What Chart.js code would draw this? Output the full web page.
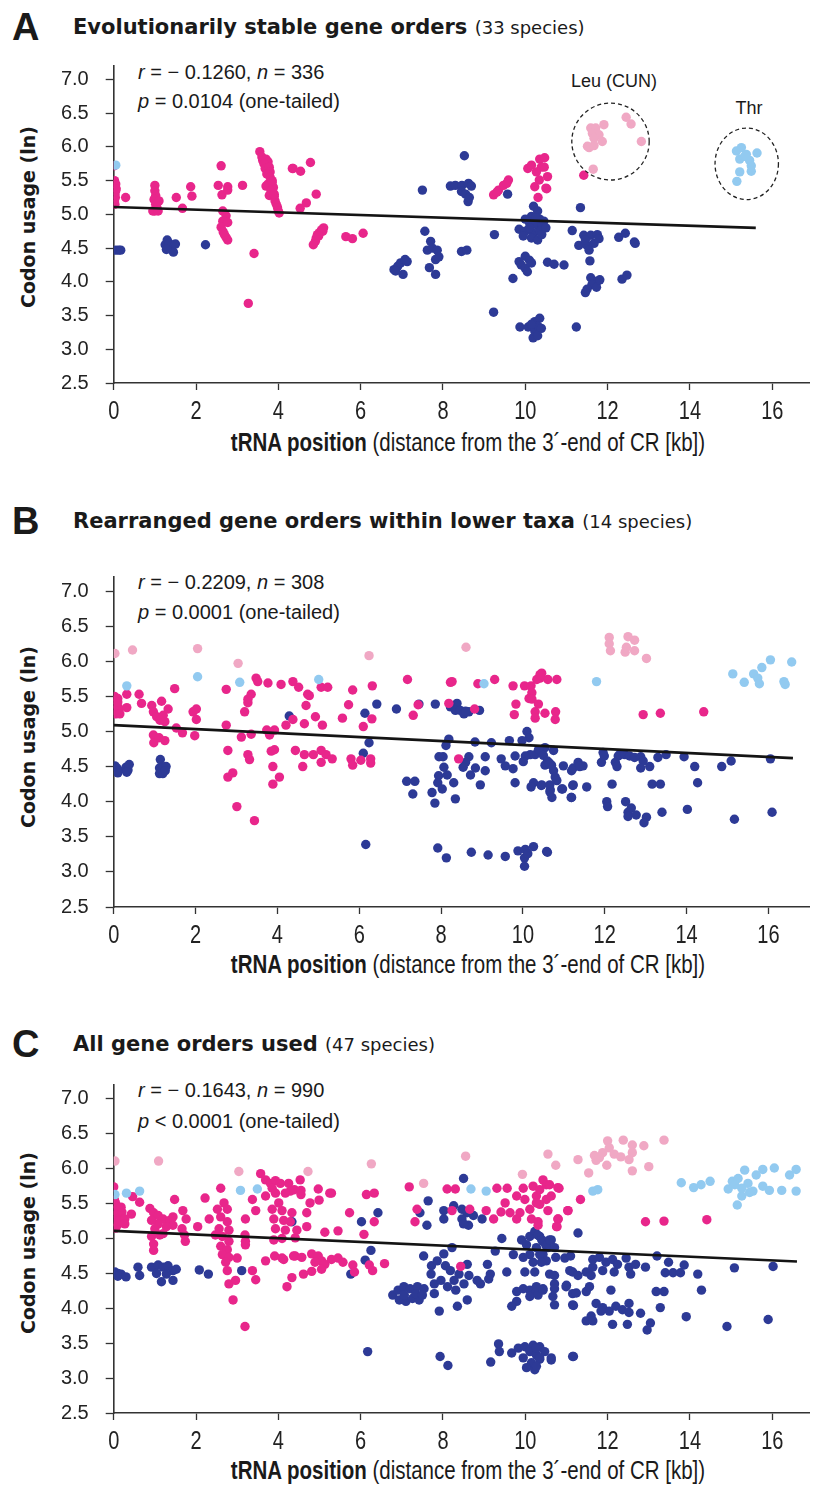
<!DOCTYPE html>
<html>
<head>
<meta charset="utf-8">
<script src="https://cdn.jsdelivr.net/npm/chart.js@4.4.1/dist/chart.umd.min.js"></script>
<style>
html, body { margin: 0; padding: 0; background: #fff; }
#fig { position: relative; width: 814px; height: 1486px; overflow: hidden; }
#fig canvas { position: absolute; left: 0; }
.t { position: absolute; white-space: nowrap; transform: translateY(-50%); color: #1a1a1a; }
.letter { font: bold 38px "Liberation Sans", Arial, sans-serif; left: 12px; }
.title { font: bold 21px "DejaVu Sans", Verdana, sans-serif; left: 73px; }
.title span { font-weight: normal; font-size: 18px; }
.stat { font: 20px "Liberation Sans", Arial, sans-serif; left: 138px; }
.ytitle { font: bold 19px "DejaVu Sans", Verdana, sans-serif; transform: translate(-50%, -50%) rotate(-90deg); }
/* the original axis title is set in a narrow face; squeeze Arial to match */
.xtitle { font: 25px "Liberation Sans", Arial, sans-serif; transform: translate(-50%, -50%) scaleX(0.82); }
.note { font: 18px "Liberation Sans", Arial, sans-serif; transform: translate(-50%, -50%); }
</style>
</head>
<body>
<div id="fig">
  <div class="t letter" style="top:27px">A</div>
  <div class="t title" style="top:27px">Evolutionarily stable gene orders <span>(33 species)</span></div>
  <div class="t stat" style="top:72px"><i>r</i> = − 0.1260, <i>n</i> = 336</div>
  <div class="t stat" style="top:101px"><i>p</i> = 0.0104 (one-tailed)</div>
  <div class="t ytitle" style="left:28px;top:217px">Codon usage (ln)</div>
  <div class="t xtitle" style="left:468px;top:442px"><b>tRNA position</b> (distance from the 3´-end of CR [kb])</div>
  <div class="t note" style="left:614px;top:81px">Leu (CUN)</div>
  <div class="t note" style="left:749px;top:108px">Thr</div>

  <div class="t letter" style="top:521px">B</div>
  <div class="t title" style="top:521px">Rearranged gene orders within lower taxa <span>(14 species)</span></div>
  <div class="t stat" style="top:582px"><i>r</i> = − 0.2209, <i>n</i> = 308</div>
  <div class="t stat" style="top:612px"><i>p</i> = 0.0001 (one-tailed)</div>
  <div class="t ytitle" style="left:28px;top:737px">Codon usage (ln)</div>
  <div class="t xtitle" style="left:468px;top:964px"><b>tRNA position</b> (distance from the 3´-end of CR [kb])</div>

  <div class="t letter" style="top:1044px">C</div>
  <div class="t title" style="top:1044px">All gene orders used <span>(47 species)</span></div>
  <div class="t stat" style="top:1090px"><i>r</i> = − 0.1643, <i>n</i> = 990</div>
  <div class="t stat" style="top:1121px"><i>p</i> &lt; 0.0001 (one-tailed)</div>
  <div class="t ytitle" style="left:28px;top:1243px">Codon usage (ln)</div>
  <div class="t xtitle" style="left:468px;top:1470px"><b>tRNA position</b> (distance from the 3´-end of CR [kb])</div>
</div>
<script>
// tick labels
const xTicks = [0, 2, 4, 6, 8, 10, 12, 14, 16];
const yTicks = [2.5, 3.0, 3.5, 4.0, 4.5, 5.0, 5.5, 6.0, 6.5, 7.0];

// A: evolutionarily stable gene orders, [kb, codon usage]
const aMagenta = [
  [0, 5.72], [0.02, 5.5], [0.03, 5.45], [0.02, 5.4], [0.05, 5.35], [0.03, 5.3], [0.04, 5.25], [0.02, 5.2], [0.03, 5.15], [0.05, 5.45], [0.06, 5.38], [0.29, 5.25],
  [1.0, 5.43], [1.0, 5.35], [1.02, 5.28], [0.98, 5.22], [1.02, 5.15], [1.05, 5.1], [1.0, 5.05], [0.95, 5.05], [1.08, 5.05], [1.1, 5.2],
  [1.52, 5.25], [1.87, 5.41], [1.9, 5.27], [1.67, 5.09],
  [2.61, 5.72], [2.54, 5.43], [2.77, 5.41], [2.63, 5.29], [2.77, 5.36], [2.65, 5.05], [2.73, 4.98], [2.65, 4.9], [2.61, 4.81], [2.66, 4.74], [2.73, 4.66], [2.77, 4.62], [2.69, 4.7], [2.77, 4.88],
  [3.13, 5.43], [3.41, 4.42], [3.27, 3.68],
  [3.55, 5.93], [3.6, 5.85], [3.62, 5.8], [3.7, 5.82], [3.75, 5.78], [3.65, 5.75], [3.68, 5.68], [3.78, 5.7], [3.8, 5.63], [3.72, 5.6], [3.8, 5.55], [3.85, 5.47], [3.75, 5.45], [3.7, 5.42], [3.88, 5.4], [3.82, 5.35], [3.78, 5.28], [3.9, 5.27], [3.92, 5.2], [3.95, 5.15], [3.98, 5.1], [4.0, 5.05], [4.02, 5.02], [3.85, 5.5], [3.9, 5.3],
  [4.34, 5.68], [4.36, 5.68], [4.54, 5.64], [4.78, 5.77], [4.92, 5.3], [4.68, 5.17], [4.53, 5.09],
  [5.1, 4.8], [5.05, 4.77], [5.0, 4.73], [4.95, 4.7], [4.92, 4.65], [4.9, 4.6], [4.85, 4.55], [5.08, 4.75], [4.98, 4.68],
  [5.64, 4.67], [5.8, 4.64], [6.06, 4.72],
  [9.23, 5.29], [9.35, 5.36], [9.47, 5.43], [9.59, 5.51], [9.55, 5.46], [9.31, 5.33],
  [10.06, 5.68], [10.15, 5.73], [10.35, 5.82], [10.47, 5.84], [10.39, 5.7], [10.54, 5.56], [10.27, 5.63], [10.23, 5.41], [10.52, 5.38], [10.31, 5.25], [10.46, 5.7], [10.5, 5.39], [10.34, 5.51],
  [11.42, 5.58]
];
const aNavy = [
  [0.05, 4.47], [0.12, 4.47], [0.17, 4.47],
  [1.3, 4.62], [1.25, 4.55], [1.32, 4.5], [1.4, 4.48], [1.45, 4.44], [1.35, 4.57], [1.28, 4.48], [1.5, 4.56],
  [2.23, 4.55],
  [6.81, 4.18], [6.9, 4.23], [6.97, 4.28], [7.08, 4.33], [7.13, 4.3], [7.03, 4.11], [6.85, 4.16],
  [7.5, 5.36],
  [7.56, 4.75], [7.7, 4.6], [7.62, 4.47], [7.74, 4.5], [7.86, 4.47], [7.82, 4.33], [7.9, 4.37], [7.67, 4.21], [7.82, 4.11],
  [8.45, 4.45], [8.58, 4.47],
  [8.52, 5.87], [8.18, 5.42], [8.3, 5.43], [8.46, 5.43], [8.62, 5.46], [8.69, 5.42], [8.45, 5.34], [8.55, 5.3], [8.61, 5.19], [8.64, 5.25],
  [9.57, 5.3], [9.25, 4.7],
  [10.2, 5.12], [10.3, 5.05], [10.15, 4.97], [10.0, 4.93], [10.35, 4.93], [10.45, 4.9], [10.1, 4.88], [10.25, 4.85], [10.4, 4.83], [9.85, 4.78], [10.0, 4.75], [10.2, 4.72], [10.35, 4.75], [10.5, 4.8], [10.15, 4.65], [9.95, 4.68], [10.3, 4.62], [10.1, 4.8], [10.25, 4.95], [10.4, 4.7],
  [10.0, 4.38], [9.85, 4.3], [9.9, 4.25], [10.0, 4.2], [10.05, 4.15], [9.7, 4.05], [10.1, 4.32], [10.15, 4.28],
  [10.54, 4.29], [10.7, 4.26], [10.94, 4.25],
  [9.23, 3.55],
  [9.87, 3.33], [10.07, 3.33], [10.23, 3.41], [10.35, 3.46], [10.23, 3.27], [10.19, 3.17], [10.31, 3.34], [10.15, 3.37], [10.39, 3.31], [10.3, 3.2],
  [11.24, 3.33],
  [11.34, 5.1], [11.14, 4.76], [11.42, 4.69], [11.59, 4.69], [11.75, 4.7], [11.3, 4.54], [11.5, 4.54], [11.67, 4.57], [11.55, 4.47], [11.79, 4.64], [11.46, 4.62],
  [12.27, 4.66], [12.43, 4.72], [12.65, 4.59], [12.67, 4.57],
  [11.57, 4.31],
  [11.59, 4.06], [11.75, 4.01], [11.62, 3.96], [11.5, 3.89], [11.46, 3.84], [11.73, 3.92], [11.81, 4.03],
  [12.35, 4.04], [12.47, 4.1]
];
const aLightPink = [
  [11.59, 6.28], [11.71, 6.28], [11.91, 6.33], [11.63, 6.2], [11.79, 6.18], [11.67, 6.13], [11.87, 6.08], [11.55, 5.99], [11.51, 6.01], [11.67, 6.02], [12.45, 6.44], [12.57, 6.34], [12.82, 6.08], [11.65, 5.67]
];
const aLightBlue = [
  [0.05, 5.73], [15.13, 5.94], [15.25, 5.99], [15.37, 5.89], [15.63, 5.91], [15.21, 5.82], [15.45, 5.8], [15.49, 5.72], [15.21, 5.63], [15.49, 5.64], [15.14, 5.49], [15.33, 5.86]
];
const aFit = [[0, 5.11], [15.6, 4.8]];

// B: rearranged gene orders within lower taxa
const bMagenta = [
  [0.02, 5.5], [0.05, 5.45], [0.1, 5.47], [0.03, 5.4], [0.08, 5.36], [0.13, 5.33], [0.02, 5.3], [0.06, 5.25], [0.15, 5.25], [0.1, 5.42],
  [0.32, 5.53], [0.32, 5.34], [0.62, 5.53], [0.68, 5.4],
  [0.93, 5.37], [1.17, 5.43], [0.97, 5.28], [1.05, 5.21], [1.21, 5.23], [1.33, 5.32], [1.13, 5.16], [1.25, 5.14], [1.49, 5.61], [1.53, 5.05], [1.68, 4.98],
  [0.97, 4.95], [0.98, 4.84], [1.11, 4.91], [1.25, 4.87],
  [1.94, 5.28], [2.02, 5.32], [2.02, 5.17], [1.98, 4.94],
  [2.75, 5.6], [2.75, 5.09], [2.79, 4.73], [2.79, 4.35], [2.91, 4.41], [3.01, 3.93], [3.12, 4.92], [3.2, 5.28], [3.28, 5.41], [3.36, 5.53], [3.28, 5.46], [3.28, 4.67], [3.32, 4.6], [3.36, 4.96], [3.44, 3.73],
  [3.48, 5.76], [3.52, 5.71], [3.77, 5.69],
  [3.74, 5.02], [3.81, 4.95], [3.93, 5.02], [3.81, 4.99], [3.93, 4.74], [3.85, 4.72], [3.89, 4.5], [4.05, 4.35], [3.89, 4.25],
  [4.09, 5.67], [4.38, 5.71], [4.52, 5.63], [4.74, 5.53], [4.78, 5.51], [4.7, 5.37], [4.93, 5.21], [4.38, 5.17], [4.21, 5.09], [4.66, 5.11], [5.1, 5.09], [5.07, 5.63], [5.23, 5.63], [5.84, 5.59], [5.74, 5.38], [5.59, 5.19], [6.1, 5.07], [6.31, 5.18], [6.32, 5.65],
  [7.18, 5.74], [7.44, 5.38], [7.32, 5.23], [8.23, 5.7], [8.27, 5.71], [8.19, 5.4], [8.9, 5.68], [9.31, 5.74], [9.76, 5.65], [10.04, 5.65], [10.2, 5.65],
  [10.46, 5.83], [10.42, 5.76], [10.61, 5.74], [10.83, 5.74], [10.34, 5.74], [10.22, 5.55], [10.15, 5.47], [10.22, 5.46], [9.83, 5.39], [9.79, 5.24], [10.38, 5.39], [10.3, 5.28], [10.54, 5.26], [10.8, 5.28], [10.3, 5.19], [10.79, 5.17], [8.82, 5.32], [10.42, 5.81],
  [4.44, 4.73], [4.66, 4.67], [4.88, 4.67], [5.07, 4.73], [5.19, 4.67], [5.34, 4.61], [4.62, 4.5], [5.07, 4.56], [5.8, 4.61], [5.84, 4.52], [6.04, 4.59], [6.28, 4.61], [6.28, 4.55], [8.43, 4.61],
  [12.94, 5.24], [13.36, 5.26], [14.42, 5.28]
];
const bNavy = [
  [0.03, 4.51], [0.08, 4.48], [0.12, 4.44], [0.1, 4.41], [0.3, 4.49], [0.35, 4.45], [0.38, 4.53], [0.32, 4.42],
  [1.14, 4.6], [1.12, 4.48], [1.2, 4.49], [1.28, 4.5], [1.12, 4.4], [1.2, 4.4], [1.26, 4.44],
  [4.29, 5.22], [6.14, 5.26], [6.43, 5.39], [6.91, 5.32], [7.46, 5.39], [7.86, 5.39], [8.39, 5.4], [8.23, 5.35], [8.35, 5.3], [8.47, 5.3], [8.56, 5.25], [8.68, 5.28], [8.94, 5.3], [8.6, 5.29],
  [6.24, 4.84], [6.1, 4.69], [6.16, 3.39],
  [8.19, 4.89], [8.12, 4.8], [7.95, 4.64], [8.05, 4.64], [8.07, 4.49], [7.94, 4.37], [8.15, 4.38], [7.92, 4.27], [8.03, 4.18], [8.31, 4.27], [8.35, 4.04], [7.16, 4.29], [7.36, 4.29], [7.31, 4.11], [7.78, 4.13], [7.85, 3.98],
  [8.83, 4.85], [9.23, 4.84], [9.67, 4.87], [10.1, 5.0], [10.15, 4.91], [9.98, 4.87], [10.18, 4.67], [10.06, 4.65], [10.3, 4.67], [10.38, 4.74], [10.54, 4.77], [10.75, 4.73],
  [8.68, 4.64], [8.6, 4.56], [8.54, 4.49], [8.84, 4.48], [8.72, 4.38], [9.08, 4.64], [9.08, 4.44], [8.96, 4.24], [9.47, 4.61], [9.57, 4.51], [9.76, 4.47], [9.81, 4.65], [10.01, 4.57], [9.81, 4.27], [10.26, 4.27], [10.46, 4.24], [10.2, 4.21],
  [10.54, 4.52], [10.75, 4.44], [10.79, 4.35], [10.67, 4.17], [10.71, 4.06], [10.97, 4.18], [10.99, 4.51], [11.19, 4.06], [11.23, 4.24], [11.19, 4.44],
  [7.92, 3.34], [8.13, 3.2], [8.74, 3.28], [9.15, 3.24], [9.57, 3.22], [9.88, 3.3], [10.06, 3.32], [10.26, 3.36], [10.04, 3.2], [10.04, 3.08], [10.12, 3.26], [10.58, 3.29], [10.6, 3.28],
  [10.4, 4.74], [10.5, 4.66], [10.6, 4.58], [10.7, 4.52], [10.65, 4.55], [11.23, 4.48], [11.35, 4.56], [11.47, 4.51], [11.39, 4.5], [11.92, 4.56], [11.96, 4.7], [11.99, 4.65], [12.26, 4.56], [12.33, 4.65], [12.37, 4.67], [12.49, 4.67], [12.61, 4.65], [12.73, 4.63], [12.88, 4.64], [12.94, 4.58], [13.1, 4.5], [12.88, 4.48], [13.3, 4.63], [13.5, 4.67], [13.94, 4.64], [14.2, 4.5], [14.86, 4.5], [15.09, 4.58], [16.05, 4.61], [12.3, 4.5],
  [10.45, 4.23], [10.66, 4.24], [10.83, 4.3], [10.95, 4.18], [10.66, 4.14], [11.18, 4.06], [11.22, 4.23], [11.56, 4.21], [12.18, 4.25], [12.05, 4.0], [12.07, 3.93], [12.51, 4.0], [12.65, 3.91], [12.57, 3.85], [12.57, 3.79], [12.77, 3.81], [13.02, 3.78], [12.96, 3.7], [13.16, 4.25], [13.36, 4.25], [13.4, 3.85], [14.02, 3.89], [14.27, 4.27], [15.17, 3.75], [16.09, 3.85]
];
const bLightPink = [
  [0.03, 6.11], [0.46, 6.16], [2.05, 6.18], [3.04, 5.97], [6.24, 6.08], [8.61, 6.2],
  [12.11, 6.34], [12.11, 6.25], [12.14, 6.15], [12.57, 6.35], [12.73, 6.3], [12.53, 6.2], [12.73, 6.15], [12.5, 6.13], [13.02, 6.04]
];
const bLightBlue = [
  [0.32, 5.65], [2.05, 5.78], [3.08, 5.7], [5.01, 5.74], [9.05, 5.68], [11.8, 5.71],
  [15.13, 5.82], [15.41, 5.7], [15.64, 5.82], [15.74, 5.76], [15.78, 5.68], [15.84, 5.91], [16.05, 6.02], [16.38, 5.71], [16.41, 5.67], [16.57, 5.99]
];
const bFit = [[0, 5.09], [16.6, 4.62]];

// C: all gene orders used
const cMagenta = [
  [0, 5.74], [0.02, 5.55], [0.05, 5.5], [0.1, 5.45], [0.03, 5.4], [0.08, 5.35], [0.15, 5.3], [0.02, 5.25], [0.1, 5.2], [0.05, 5.15], [0.2, 5.38], [0.25, 5.28], [0.12, 5.25], [0.18, 5.45],
  [0.46, 5.6], [0.63, 5.52], [0.43, 5.35], [0.27, 5.28], [0.27, 5.21],
  [0.88, 5.43], [0.97, 5.37], [1.08, 5.33], [1.2, 5.28], [1.36, 5.26], [1.44, 5.19], [1.28, 5.17], [1.0, 5.14], [0.92, 5.03], [1.12, 5.05], [0.97, 4.92], [0.97, 4.83], [1.08, 5.21], [1.2, 5.07], [1.44, 5.31], [0.92, 5.26],
  [1.48, 5.56], [1.68, 5.4], [1.76, 5.28], [1.66, 5.14], [1.72, 5.05], [1.74, 4.96], [2.04, 5.17], [2.32, 5.28], [2.22, 5.58], [2.47, 5.05],
  [2.6, 5.72], [2.68, 5.51], [2.52, 5.42], [2.76, 5.42], [2.6, 5.31], [2.76, 5.24], [2.56, 5.14], [2.8, 5.12], [2.64, 5.03], [2.8, 4.96], [2.6, 4.89], [2.76, 4.84], [2.64, 4.77], [2.8, 4.73], [2.72, 4.66], [2.76, 4.54], [2.8, 4.35], [2.9, 4.12], [2.96, 4.4], [3.0, 4.72],
  [3.2, 5.28], [3.19, 5.05], [3.2, 4.96], [3.2, 4.91], [3.37, 4.54], [3.45, 4.41], [3.19, 3.74], [3.45, 5.4], [3.37, 5.56],
  [3.57, 5.93], [3.69, 5.84], [3.81, 5.79], [3.93, 5.83], [4.05, 5.79], [3.85, 5.72], [3.69, 5.61], [3.93, 5.65], [4.01, 5.51], [3.85, 5.42], [4.09, 5.4], [3.89, 5.28], [4.13, 5.26], [3.93, 5.14], [4.17, 5.12], [3.89, 4.98], [4.09, 5.0], [4.25, 5.79], [4.39, 5.7], [4.17, 5.65],
  [3.69, 4.68], [3.91, 4.75], [4.09, 4.72], [4.33, 4.44], [4.21, 4.31], [4.41, 4.75], [4.41, 5.01],
  [4.53, 5.84], [4.55, 5.69], [4.55, 5.63], [4.29, 5.68], [4.97, 5.71], [4.99, 5.55], [5.25, 5.65], [5.29, 5.65], [4.77, 5.51], [4.69, 5.37], [4.33, 5.37], [4.29, 5.24], [4.45, 5.12], [4.69, 5.17], [5.13, 5.09], [5.45, 5.11], [5.73, 5.37], [6.08, 5.06], [6.33, 5.24], [6.14, 5.63], [6.33, 5.65],
  [7.18, 5.74], [7.32, 5.24], [7.37, 5.42], [8.1, 5.71], [8.3, 5.71], [8.22, 5.4], [8.65, 5.42], [9.05, 5.4], [9.23, 5.28], [9.31, 5.72], [9.56, 5.72], [9.51, 5.51], [9.41, 5.38], [9.63, 5.37], [9.79, 5.61], [9.95, 5.72], [9.99, 5.56], [10.11, 5.42], [9.87, 5.37],
  [10.19, 5.75], [10.43, 5.84], [10.51, 5.77], [10.27, 5.61], [10.35, 5.49], [10.51, 5.56], [10.55, 5.4], [10.15, 5.28], [10.31, 5.24], [10.82, 5.72], [10.8, 5.28], [10.76, 5.17], [11.03, 5.4], [9.79, 5.28],
  [4.13, 4.7], [4.37, 4.75], [4.57, 4.73], [4.81, 4.78], [4.97, 4.75], [5.05, 4.68], [4.89, 4.66], [5.13, 4.63], [5.29, 4.7], [5.45, 4.72], [5.57, 4.66], [5.81, 4.62], [5.85, 4.52], [4.61, 4.49], [4.81, 4.53], [5.05, 4.56], [6.21, 4.62], [6.29, 4.54], [6.58, 4.64], [8.43, 4.6],
  [10.59, 5.77], [10.35, 5.7], [10.63, 5.61], [10.79, 5.73], [10.27, 5.51], [11.04, 5.4], [11.34, 5.56], [10.79, 5.28], [10.77, 5.17], [10.31, 5.19], [12.92, 5.24], [13.37, 5.25], [14.41, 5.27]
];
const cNavy = [
  [0.03, 4.52], [0.1, 4.5], [0.18, 4.49], [0.1, 4.46], [0.3, 4.45],
  [0.59, 4.59], [0.63, 4.47], [0.92, 4.59], [1.08, 4.62], [1.2, 4.59], [1.32, 4.61], [1.44, 4.54], [1.52, 4.56], [1.16, 4.38], [1.44, 4.4], [1.04, 4.5], [1.28, 4.49], [2.08, 4.55], [2.3, 4.49], [3.11, 4.54],
  [4.33, 5.24],
  [6.42, 5.37], [6.02, 5.24], [6.25, 4.83], [6.11, 4.69], [5.76, 4.49], [7.64, 5.54], [7.61, 5.19], [7.44, 5.37], [8.5, 5.86], [8.02, 5.4], [8.02, 5.28], [8.26, 5.47], [8.46, 5.42], [8.58, 5.37], [8.74, 5.33], [8.46, 5.28], [8.62, 5.19], [8.5, 5.21], [8.95, 5.28],
  [6.78, 4.19], [6.91, 4.26], [7.05, 4.31], [7.2, 4.28], [7.38, 4.31], [7.54, 4.28], [6.94, 4.12], [7.1, 4.1], [7.26, 4.14], [7.42, 4.12], [7.06, 4.19], [7.34, 4.21], [7.5, 4.19],
  [7.53, 4.75], [7.72, 4.61], [7.86, 4.68], [8.02, 4.78], [8.22, 4.87], [8.06, 4.61], [8.18, 4.54], [7.71, 4.49], [7.79, 4.35], [7.95, 4.4], [8.11, 4.31], [8.27, 4.4], [8.39, 4.49], [8.31, 4.26], [8.59, 4.63], [8.63, 4.47], [8.51, 4.35], [8.83, 4.4], [8.91, 4.35], [8.59, 4.12], [8.35, 4.03], [7.91, 3.96], [7.79, 4.21],
  [9.43, 5.0], [9.27, 4.82], [9.08, 4.63], [9.15, 4.49], [9.11, 4.42], [9.55, 4.52], [9.71, 4.77], [9.91, 4.98], [10.03, 4.91], [10.11, 5.03], [10.23, 5.1], [10.35, 5.03], [10.43, 4.96], [10.27, 4.87], [10.11, 4.77], [9.95, 4.73], [10.19, 4.66], [10.43, 4.77], [10.55, 4.87], [9.99, 4.52], [10.23, 4.52], [10.51, 4.68], [10.63, 4.98], [10.71, 4.87],
  [10.59, 4.49], [10.71, 4.35], [10.67, 4.17], [10.71, 4.05], [9.79, 4.24], [9.95, 4.28], [10.11, 4.26], [10.27, 4.24], [10.43, 4.28], [9.79, 4.1], [9.67, 4.03], [10.11, 4.17], [10.31, 4.19], [10.99, 4.31], [11.15, 4.52], [11.15, 4.21], [11.15, 4.05], [10.96, 4.72],
  [6.17, 3.38], [7.93, 3.31], [8.12, 3.18], [9.35, 3.49], [9.37, 3.38], [9.16, 3.23], [9.67, 3.36], [9.83, 3.43], [9.99, 3.45], [10.19, 3.47], [10.35, 3.45], [10.11, 3.38], [10.27, 3.33], [9.95, 3.29], [10.15, 3.22], [10.03, 3.15], [10.23, 3.12], [10.35, 3.27], [10.63, 3.29], [11.15, 3.31], [10.47, 3.38],
  [10.3, 5.05], [10.4, 4.98], [10.5, 4.9], [10.59, 4.98], [11.28, 5.08], [10.35, 4.77], [10.39, 4.66], [10.74, 4.73], [11.1, 4.75], [10.71, 4.47], [11.08, 4.54], [11.28, 4.47], [11.48, 4.52], [11.64, 4.59], [11.64, 4.7], [11.8, 4.73], [11.96, 4.66], [12.12, 4.7], [12.24, 4.63], [12.45, 4.72], [12.52, 4.59], [12.68, 4.63], [12.92, 4.59], [12.16, 4.52], [12.56, 4.49], [11.6, 4.47], [11.88, 4.54],
  [13.2, 4.75], [13.48, 4.66], [13.86, 4.62], [13.4, 4.51], [13.59, 4.51], [13.77, 4.51], [14.19, 4.49], [15.08, 4.58], [16.02, 4.6],
  [10.27, 4.31], [10.43, 4.26], [10.71, 4.28], [11.0, 4.33], [11.24, 4.22], [11.48, 4.24], [11.56, 4.31], [11.17, 4.04], [12.08, 4.26], [13.18, 4.24], [13.37, 4.24], [14.28, 4.26],
  [11.72, 4.07], [11.88, 4.01], [12.04, 3.96], [12.2, 4.03], [12.36, 3.98], [12.52, 4.07], [12.52, 3.94], [11.6, 3.89], [11.48, 3.82], [11.64, 3.82], [12.12, 3.77], [12.48, 3.77], [12.8, 3.93], [13.04, 3.79], [12.96, 3.69], [13.28, 4.01], [13.91, 3.88], [14.9, 3.74], [15.9, 3.84], [11.84, 3.96],
  [10.27, 3.43], [10.35, 3.29], [10.63, 3.26], [10.27, 3.17], [11.17, 3.31]
];
const cLightPink = [
  [0.03, 6.11], [1.09, 6.11], [3.04, 5.96], [4.72, 5.96], [6.26, 6.07], [7.53, 5.79], [8.55, 6.18], [9.93, 5.92], [10.55, 6.21], [10.74, 6.05],
  [11.28, 6.13], [11.54, 5.94], [11.68, 6.19], [11.8, 6.16], [11.88, 6.23], [12.0, 6.4], [12.04, 6.3], [12.16, 6.21], [12.32, 6.17], [12.38, 6.41], [12.6, 6.34], [12.6, 6.23], [12.52, 6.13], [12.6, 5.97], [12.88, 6.33], [13.0, 6.03], [13.37, 6.41], [11.98, 6.05], [11.72, 6.12]
];
const cLightBlue = [
  [0.03, 5.63], [0.31, 5.65], [0.63, 5.68], [3.08, 5.69], [3.49, 5.71], [8.68, 5.71], [9.05, 5.68], [11.64, 5.68], [11.76, 5.7],
  [13.79, 5.8], [14.09, 5.73], [14.27, 5.77], [14.49, 5.82], [14.93, 5.71], [15.03, 5.82], [15.15, 5.48], [15.26, 5.61], [15.17, 5.86], [15.33, 5.98], [15.41, 5.79], [15.53, 5.68], [15.61, 5.91], [15.77, 5.99], [15.77, 5.75], [15.93, 5.69], [16.05, 6.01], [16.23, 5.69], [16.42, 5.91], [16.58, 5.99], [16.58, 5.68], [15.26, 5.72], [15.45, 5.66], [15.09, 5.77]
];
const cFit = [[0, 5.11], [16.6, 4.67]];

const colors = {
  magenta: 'rgb(232, 38, 139)',
  navy: 'rgb(45, 58, 150)',
  pink: 'rgb(240, 168, 196)',
  blue: 'rgb(146, 202, 240)'
};

// dashed rings round the Leu (CUN) and Thr groups, in data units
const ringPlugin = {
  id: 'rings',
  afterDatasetsDraw(chart, args, opts) {
    if (!opts.rings) return;
    const { ctx, scales: { x, y } } = chart;
    ctx.save();
    ctx.strokeStyle = '#222';
    ctx.lineWidth = 1.3;
    ctx.setLineDash([4, 3]);
    opts.rings.forEach(r => {
      const cx = x.getPixelForValue(r.cx), cy = y.getPixelForValue(r.cy);
      const rx = x.getPixelForValue(r.cx + r.rx) - cx;
      const ry = cy - y.getPixelForValue(r.cy + r.ry);
      ctx.beginPath();
      ctx.ellipse(cx, cy, rx, ry, 0, 0, Math.PI * 2);
      ctx.stroke();
    });
    ctx.restore();
  }
};

// x tick labels in a squeezed face, like the narrow font of the original
const narrowTicks = {
  id: 'narrowTicks',
  afterDraw(chart) {
    const { ctx, scales: { x }, chartArea } = chart;
    ctx.save();
    ctx.fillStyle = '#222';
    ctx.font = '25px "Liberation Sans", Arial, sans-serif';
    ctx.textAlign = 'center';
    ctx.textBaseline = 'middle';
    xTicks.forEach(v => {
      ctx.save();
      ctx.translate(x.getPixelForValue(v), chartArea.bottom + 29);
      ctx.scale(0.8, 1);
      ctx.fillText(String(v), 0, 0);
      ctx.restore();
    });
    ctx.restore();
  }
};

const panels = [
  { fit: aFit, magenta: aMagenta, navy: aNavy, pink: aLightPink, blue: aLightBlue, top: 57, bottom: 383.3, xMax: 16.9,
    rings: [{ cx: 12.07, cy: 6.08, rx: 0.94, ry: 0.57 }, { cx: 15.38, cy: 5.75, rx: 0.77, ry: 0.53 }] },
  { fit: bFit, magenta: bMagenta, navy: bNavy, pink: bLightPink, blue: bLightBlue, top: 567.9, bottom: 906.7, xMax: 17.0 },
  { fit: cFit, magenta: cMagenta, navy: cNavy, pink: cLightPink, blue: cLightBlue, top: 1075.6, bottom: 1413, xMax: 16.9 }
];

const toXY = arr => arr.map(p => ({ x: p[0], y: p[1] }));
const dots = (arr, color) => ({
  data: toXY(arr),
  backgroundColor: color,
  borderWidth: 0,
  pointRadius: 4.7,
  pointHoverRadius: 4.7
});

const fig = document.getElementById('fig');

panels.forEach(p => {
  const canvas = document.createElement('canvas');
  const cTop = Math.round(p.top - 20);
  const h = Math.round(p.bottom - cTop + 46);
  canvas.width = 814;
  canvas.height = h;
  canvas.style.top = cTop + 'px';
  fig.appendChild(canvas);

  new Chart(canvas, {
    type: 'scatter',
    data: {
      datasets: [
        { type: 'line', data: toXY(p.fit), borderColor: '#141414', borderWidth: 2.6, pointRadius: 0, fill: false },
        dots(p.blue, colors.blue),
        dots(p.pink, colors.pink),
        dots(p.magenta, colors.magenta),
        dots(p.navy, colors.navy)
      ]
    },
    options: {
      responsive: false,
      animation: false,
      layout: { padding: { top: p.top - cTop, left: 0, right: 0, bottom: 0 } },
      plugins: { legend: { display: false }, tooltip: { enabled: false }, rings: { rings: p.rings } },
      scales: {
        x: {
          type: 'linear', min: 0, max: p.xMax,
          afterBuildTicks: s => { s.ticks = xTicks.map(v => ({ value: v })); },
          afterFit: s => { s.height = 46; },
          grid: { drawOnChartArea: false, tickLength: 7, color: '#333', tickWidth: 1.3 },
          border: { color: '#333', width: 1.6 },
          ticks: { display: false }
        },
        y: {
          type: 'linear', min: 2.5, max: 7.2,
          afterBuildTicks: s => { s.ticks = yTicks.map(v => ({ value: v })); },
          afterFit: s => { s.width = 113.7; },
          grid: { drawOnChartArea: false, tickLength: 8, color: '#333', tickWidth: 1.3 },
          border: { color: '#333', width: 1.6 },
          ticks: { color: '#222', padding: 17, callback: v => v.toFixed(1),
                   font: { family: '"Liberation Sans", Arial, sans-serif', size: 20 } }
        }
      }
    },
    plugins: [ringPlugin, narrowTicks]
  });
});
</script>
</body>
</html>
